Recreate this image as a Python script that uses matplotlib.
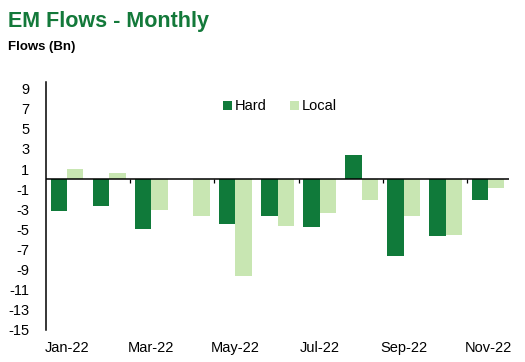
import numpy as np
import matplotlib
matplotlib.use("Agg")
import matplotlib.pyplot as plt

plt.rcParams['font.family'] = ['Liberation Sans', 'DejaVu Sans']

months = ['Jan-22', 'Feb-22', 'Mar-22', 'Apr-22', 'May-22', 'Jun-22',
          'Jul-22', 'Aug-22', 'Sep-22', 'Oct-22', 'Nov-22']
hard = [-3.2, -2.65, -5.0, 0.0, -4.45, -3.7, -4.8, 2.4, -7.6, -5.7, -2.1]
local = [1.0, 0.6, -3.05, -3.65, -9.6, -4.7, -3.35, -2.1, -3.7, -5.6, -0.9]
yticks = list(range(-15, 10, 2))

hard_color = '#107a3a'
local_color = '#c8e6b2'
title_color = '#13793a'

fig = plt.figure(figsize=(5.25, 3.62), dpi=100)
ax = fig.add_axes([0.0876, 0.0884, 0.882, 0.685])

x = np.arange(len(months))
w = 0.39
ax.bar(x - w / 2, hard, w, color=hard_color, label='Hard')
ax.bar(x + w / 2, local, w, color=local_color, label='Local')

ax.set_xlim(-0.5, len(months) - 0.5)
ax.set_ylim(-15, 9.65)
ax.set_yticks(yticks)
ax.set_yticklabels([str(t) for t in yticks], fontsize=10.5)
ax.tick_params(axis='y', length=0, pad=12)

ax.set_xticks(x[::2])
ax.set_xticklabels(months[::2], fontsize=10.5)
ax.tick_params(axis='x', length=0, pad=8)

# zero line + category tick marks
ax.axhline(0, color='black', lw=1.1, zorder=3)
bounds = np.arange(1.5, len(months) - 0.5, 2)
ax.vlines(bounds, -0.35, 0, color='black', lw=0.9, zorder=3)

for s in ['top', 'right', 'bottom']:
    ax.spines[s].set_visible(False)
ax.spines['left'].set_linewidth(1.1)

ax.legend(loc='center', bbox_to_anchor=(0.505, 0.902), ncol=2, frameon=False,
          fontsize=10.5, handlelength=0.6, handleheight=0.6, handletextpad=0.2,
          columnspacing=1.6)

fig.text(0.015, 0.926, 'EM Flows - Monthly', fontsize=15.5, fontweight='bold',
         color=title_color, va='baseline')
fig.text(0.015, 0.863, 'Flows (Bn)', fontsize=9.5, fontweight='bold',
         color='black', va='baseline')

fig.savefig('out.png', dpi=100)
